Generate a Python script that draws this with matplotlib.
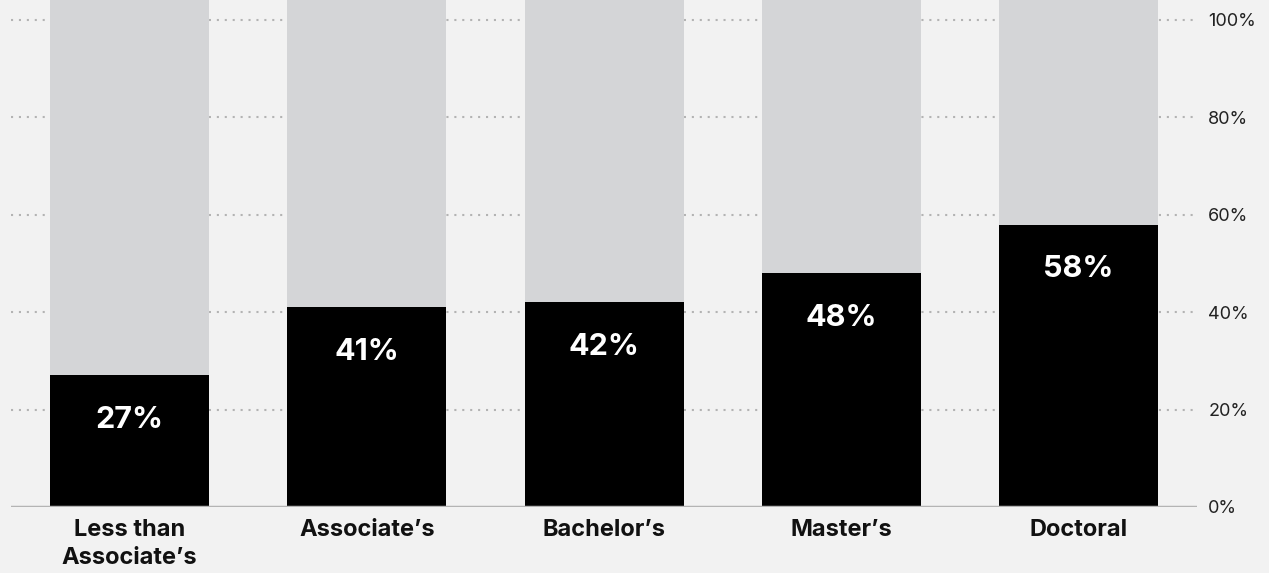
import matplotlib.pyplot as plt

# share of each degree level (percent)
categories = ['Less than\nAssociate\u2019s', 'Associate\u2019s', 'Bachelor\u2019s', 'Master\u2019s', 'Doctoral']
values = [27, 41, 42, 48, 58]
yticks = [0, 20, 40, 60, 80, 100]
ytick_labels = ['0%', '20%', '40%', '60%', '80%', '100%']

plt.rcParams['font.family'] = ['Inter', 'DejaVu Sans']

bg = '#f2f2f2'
top = 104.1

fig = plt.figure(figsize=(12.69, 5.73), dpi=100, facecolor=bg)
ax = fig.add_axes([0.0087, 0.1152, 0.9346, 0.8848])
ax.set_facecolor(bg)

x = list(range(len(categories)))
ax.bar(x, [top - v for v in values], bottom=values, width=0.67, color='#d4d5d7', zorder=2)
ax.bar(x, values, width=0.67, color='black', zorder=3)

for xi, v in zip(x, values):
    ax.annotate(f'{v}%', (xi, v), xytext=(0, -22), textcoords='offset points',
                ha='center', va='top', color='white', fontsize=22, fontweight='bold', zorder=4)

for t in yticks[1:]:
    ax.axhline(t, color='#b3b3b3', lw=1.5, linestyle=(0, (1, 2.8)), zorder=1)
ax.axhline(0, color='#b4b4b4', lw=2.5, zorder=4)

ax.set_xlim(-0.5, 4.5)
ax.set_ylim(0, top)
ax.yaxis.tick_right()
ax.set_yticks(yticks)
ax.set_yticklabels(ytick_labels, fontsize=13, color='#222222')
ax.set_xticks(x)
ax.set_xticklabels(categories, fontsize=17, fontweight='bold', color='#111111', linespacing=1.3)
ax.tick_params(axis='both', length=0)
ax.tick_params(axis='y', pad=8)
ax.tick_params(axis='x', pad=9)
for s in ax.spines.values():
    s.set_visible(False)

fig.savefig('out.png', dpi=100, facecolor=bg)
